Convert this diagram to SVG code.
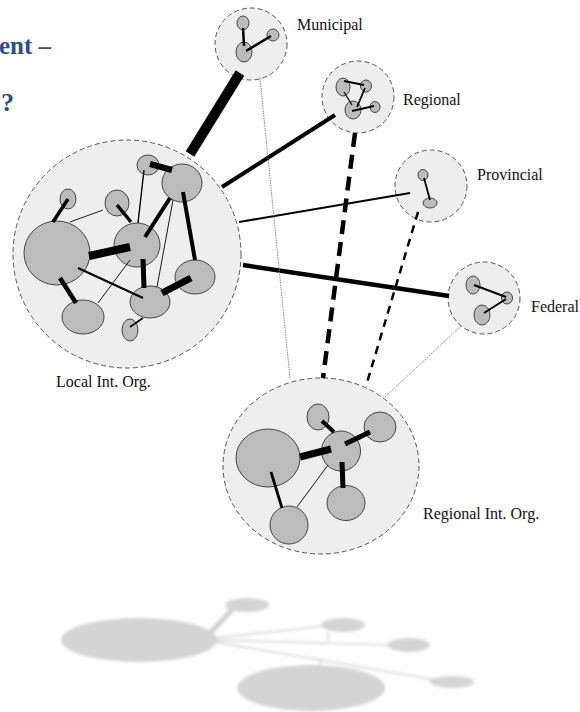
<svg xmlns="http://www.w3.org/2000/svg" width="580" height="712" viewBox="0 0 580 712">
<defs>
<style>
.cl{fill:#eeeeee;stroke:#555;stroke-width:1;stroke-dasharray:5 3}
.n{fill:#bcbcbc;stroke:#444;stroke-width:1}
.e{stroke:#000;fill:none;stroke-linecap:butt}
.lbl{font-family:"Liberation Serif","Times New Roman",serif;font-size:16px;fill:#111}
.ttl{font-family:"Liberation Serif","Times New Roman",serif;font-weight:bold;fill:#2e4e86}
.rf{fill:#d4d4d4}
.rl{stroke:#d0d0d0;fill:none}
</style>
<filter id="blur" x="-20%" y="-50%" width="140%" height="200%"><feGaussianBlur stdDeviation="1.6"/></filter>
</defs>
<rect width="580" height="712" fill="#ffffff"/>
<text class="ttl" x="-1" y="54" font-size="25">ent –</text>
<text class="ttl" x="1" y="111" font-size="26">?</text>

<g id="local">
<circle class="cl" cx="127" cy="254" r="114"/>
<ellipse class="n" cx="148" cy="165" rx="11" ry="10"/>
<ellipse class="n" cx="182" cy="183" rx="20" ry="19"/>
<ellipse class="n" cx="68" cy="199" rx="8" ry="10"/>
<ellipse class="n" cx="117" cy="203" rx="12" ry="13"/>
<ellipse class="n" cx="57" cy="253" rx="33" ry="32"/>
<ellipse class="n" cx="137" cy="245" rx="23" ry="22"/>
<ellipse class="n" cx="195" cy="277" rx="20" ry="17"/>
<ellipse class="n" cx="150" cy="302" rx="20" ry="16"/>
<ellipse class="n" cx="83" cy="317" rx="21" ry="17"/>
<ellipse class="n" cx="130" cy="330" rx="8" ry="11"/>
<text class="lbl" x="56" y="387">Local Int. Org.</text>
</g>

<g id="municipal">
<circle class="cl" cx="251" cy="44" r="36"/>
<ellipse class="n" cx="243" cy="23" rx="6" ry="7"/>
<ellipse class="n" cx="273" cy="35" rx="6" ry="6"/>
<ellipse class="n" cx="244" cy="52" rx="8" ry="10"/>
<text class="lbl" x="297" y="30">Municipal</text>
</g>

<g id="regional">
<circle class="cl" cx="358" cy="97" r="36"/>
<ellipse class="n" cx="343" cy="87" rx="7" ry="9"/>
<ellipse class="n" cx="366" cy="86" rx="5.5" ry="6"/>
<ellipse class="n" cx="353" cy="110" rx="8" ry="9"/>
<ellipse class="n" cx="375" cy="107" rx="5" ry="5.5"/>
<text class="lbl" x="403" y="105">Regional</text>
</g>

<g id="provincial">
<circle class="cl" cx="431" cy="186" r="36"/>
<ellipse class="n" cx="423" cy="175" rx="5" ry="5.5"/>
<ellipse class="n" cx="430" cy="203" rx="7" ry="5"/>
<text class="lbl" x="477" y="180">Provincial</text>
</g>

<g id="federal">
<circle class="cl" cx="484" cy="298" r="36"/>
<ellipse class="n" cx="473" cy="285" rx="7" ry="9"/>
<ellipse class="n" cx="507" cy="298" rx="5.5" ry="6"/>
<ellipse class="n" cx="482" cy="315" rx="8" ry="10"/>
<text class="lbl" x="531" y="312">Federal</text>
</g>

<g id="regional-int">
<ellipse class="cl" cx="321" cy="466" rx="98" ry="88"/>
<ellipse class="n" cx="268" cy="458" rx="32" ry="29"/>
<ellipse class="n" cx="341" cy="451" rx="19.5" ry="20"/>
<ellipse class="n" cx="318" cy="417" rx="11" ry="13"/>
<ellipse class="n" cx="380" cy="427" rx="16" ry="15"/>
<ellipse class="n" cx="346" cy="503" rx="19" ry="17.5"/>
<ellipse class="n" cx="289" cy="525" rx="19" ry="19"/>
<text class="lbl" x="423" y="519">Regional Int. Org.</text>
</g>

<g id="connectors">
<!-- inter-cluster -->
<line class="e" x1="190" y1="154" x2="240" y2="73" stroke-width="10"/>
<line class="e" x1="222" y1="187" x2="335" y2="115" stroke-width="4"/>
<line class="e" x1="239" y1="222" x2="410" y2="193" stroke-width="2"/>
<line class="e" x1="243" y1="265" x2="449" y2="296" stroke-width="4.5"/>
<line x1="260" y1="78" x2="290" y2="378" stroke="#888" stroke-width="1" stroke-dasharray="1.5 1"/>
<line class="e" x1="355" y1="133" x2="323" y2="378" stroke-width="4.5" stroke-dasharray="14 8"/>
<line class="e" x1="418" y1="212" x2="366" y2="386" stroke-width="2.5" stroke-dasharray="8 6"/>
<line x1="461" y1="326" x2="385" y2="397" stroke="#999" stroke-width="1" stroke-dasharray="2 1"/>
<!-- municipal -->
<line class="e" x1="243" y1="28" x2="244" y2="46" stroke-width="2.5"/>
<line class="e" x1="246" y1="51" x2="271" y2="36" stroke-width="2.5"/>
<!-- regional -->
<line class="e" x1="344" y1="81" x2="364" y2="85" stroke-width="1.8"/>
<line class="e" x1="365" y1="88" x2="357" y2="107" stroke-width="1.8"/>
<line class="e" x1="344" y1="92" x2="352" y2="105" stroke-width="1.2"/>
<line class="e" x1="352" y1="111" x2="374" y2="106" stroke-width="1.8"/>
<!-- provincial -->
<line class="e" x1="424" y1="178" x2="430" y2="200" stroke-width="1.8"/>
<!-- federal -->
<line class="e" x1="474" y1="285" x2="506" y2="297" stroke-width="2"/>
<line class="e" x1="506" y1="299" x2="484" y2="313" stroke-width="2"/>
<!-- local -->
<line class="e" x1="150" y1="164" x2="172" y2="170" stroke-width="6"/>
<line class="e" x1="68" y1="199" x2="53" y2="222" stroke-width="3.5"/>
<line class="e" x1="103" y1="210" x2="70" y2="222" stroke-width="0.9"/>
<line class="e" x1="117" y1="205" x2="131" y2="222" stroke-width="3.5"/>
<line class="e" x1="144" y1="170" x2="138" y2="223" stroke-width="1.4"/>
<line class="e" x1="170" y1="198" x2="145" y2="237" stroke-width="4"/>
<line class="e" x1="173" y1="200" x2="157" y2="287" stroke-width="0.9"/>
<line class="e" x1="183" y1="192" x2="195" y2="260" stroke-width="4"/>
<line class="e" x1="89" y1="256" x2="130" y2="247" stroke-width="8"/>
<line class="e" x1="60" y1="278" x2="76" y2="303" stroke-width="4.5"/>
<line class="e" x1="78" y1="268" x2="143" y2="298" stroke-width="2"/>
<line class="e" x1="130" y1="260" x2="98" y2="303" stroke-width="0.9"/>
<line class="e" x1="143" y1="259" x2="144" y2="288" stroke-width="5"/>
<line class="e" x1="162" y1="293" x2="191" y2="278" stroke-width="7"/>
<line class="e" x1="143" y1="318" x2="130" y2="327" stroke-width="1.6"/>
<!-- regional int -->
<line class="e" x1="300" y1="457" x2="331" y2="449" stroke-width="7"/>
<line class="e" x1="322" y1="421" x2="334" y2="432" stroke-width="4"/>
<line class="e" x1="345" y1="444" x2="370" y2="432" stroke-width="5"/>
<line class="e" x1="342" y1="462" x2="343" y2="488" stroke-width="5"/>
<line class="e" x1="271" y1="472" x2="282" y2="508" stroke-width="2.8"/>
<line class="e" x1="328" y1="465" x2="297" y2="507" stroke-width="0.9"/>
</g>

<g id="reflection" filter="url(#blur)">
<line class="rl" x1="210" y1="633" x2="232" y2="610" stroke-width="5"/>
<line class="rl" x1="215" y1="638" x2="325" y2="626" stroke-width="1.5"/>
<line class="rl" x1="215" y1="640" x2="392" y2="645" stroke-width="1.5"/>
<line class="rl" x1="215" y1="642" x2="436" y2="680" stroke-width="1.5"/>
<line class="rl" x1="328" y1="632" x2="328" y2="641" stroke-width="1.5"/>
<line class="rl" x1="321" y1="658" x2="320" y2="667" stroke-width="1.5"/>
<ellipse class="rf" cx="139" cy="640" rx="78" ry="22"/>
<ellipse class="rf" cx="247" cy="605" rx="22" ry="7"/>
<ellipse class="rf" cx="343" cy="625" rx="22" ry="7"/>
<ellipse class="rf" cx="409" cy="645" rx="21" ry="7"/>
<ellipse class="rf" cx="452" cy="682" rx="22" ry="6"/>
<ellipse class="rf" cx="311" cy="688" rx="74" ry="23"/>
</g>
</svg>
